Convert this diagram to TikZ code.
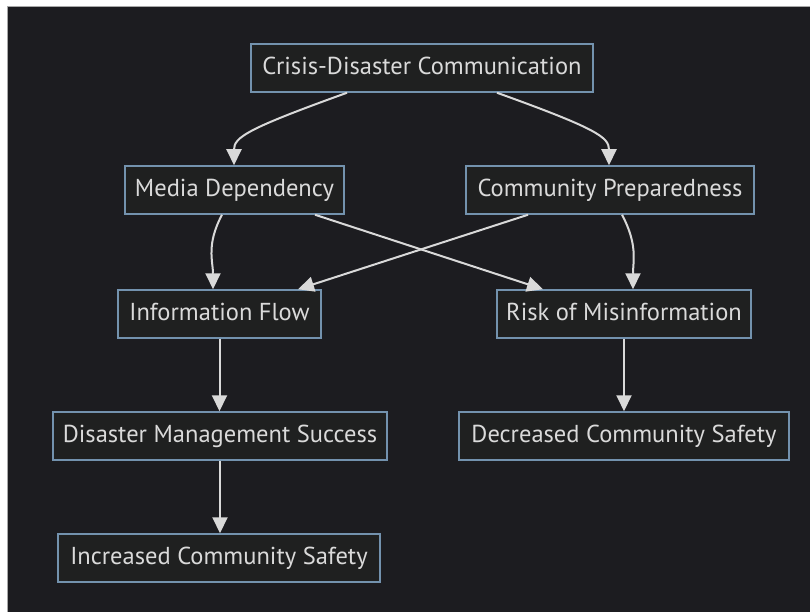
\documentclass[tikz,border=0pt]{standalone}
\usepackage{fontspec}
\setmainfont{PT Sans}
\usetikzlibrary{arrows.meta}
\definecolor{pagebg}{HTML}{1C1C20}
\definecolor{boxfill}{HTML}{1F2020}
\definecolor{boxline}{HTML}{7392AE}
\definecolor{txt}{HTML}{DADADA}
\definecolor{edge}{HTML}{D9D9D9}
\definecolor{rim}{HTML}{A8A8A8}
\tikzset{
  box/.style={draw=boxline, fill=boxfill, line width=1.5pt, text=txt,
    font=\fontsize{24.5}{29}\selectfont, minimum height=48pt, inner xsep=0pt,
    text height=17.5pt, text depth=5pt, anchor=center},
  link/.style={draw=edge, line width=2pt,
    -{Triangle[length=16pt,width=15pt]}},
}
\begin{document}
\begin{tikzpicture}[x=1pt,y=-1pt]
\useasboundingbox (0,0) rectangle (810,612);
\fill[white] (0,0) rectangle (810,612);
\fill[pagebg] (7,7) rectangle (810,612);
\draw[rim, line width=1pt] (7,612) -- (7,7) -- (810,7);

\node[box, minimum width=342pt] (A) at (422,68) {Crisis-Disaster Communication};
\node[box, minimum width=219pt] (B) at (234.5,190) {Media Dependency};
\node[box, minimum width=288pt] (C) at (610,190) {Community Preparedness};
\node[box, minimum width=203pt] (D) at (219.5,314) {Information Flow};
\node[box, minimum width=254pt] (E) at (624,314) {Risk of Misinformation};
\node[box, minimum width=334pt] (F) at (220,436) {Disaster Management Success};
\node[box, minimum width=330pt] (G) at (624,436) {Decreased Community Safety};
\node[box, minimum width=322pt] (H) at (219,558) {Increased Community Safety};

\draw[link] ([xshift=-75pt]A.south) .. controls ++(-100,36) and ++(0,-28) .. ([xshift=-0.5pt]B.north);
\draw[link] ([xshift=75pt]A.south) .. controls ++(100,36) and ++(0,-28) .. ([xshift=-1pt]C.north);
\draw[link] ([xshift=-12.5pt]B.south) .. controls ++(-16,30) and ++(0,-28) .. ([xshift=-6.5pt]D.north);
\draw[link] ([xshift=12pt]C.south) .. controls ++(16,30) and ++(0,-28) .. ([xshift=9pt]E.north);
\draw[link] ([xshift=80.5pt]B.south) -- ([xshift=-81pt]E.north);
\draw[link] ([xshift=-82pt]C.south) -- ([xshift=78.5pt]D.north);
\draw[link] (D.south) -- (D.south |- F.north);
\draw[link] (E.south) -- (G.north);
\draw[link] (F.south) -- (F.south |- H.north);
\end{tikzpicture}
\end{document}
